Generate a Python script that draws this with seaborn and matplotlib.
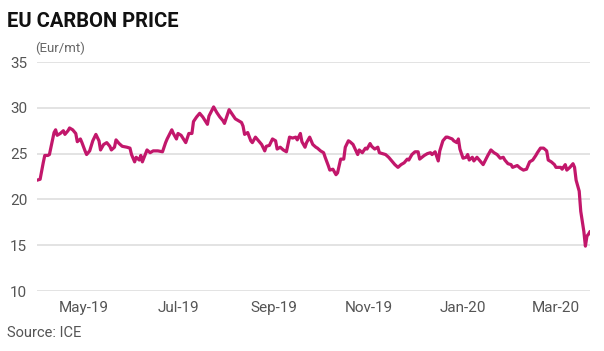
import matplotlib
matplotlib.use("Agg")
import matplotlib.pyplot as plt
import seaborn as sns
import pandas as pd

dates = [
    "2019-04-01", "2019-04-03", "2019-04-05", "2019-04-06", "2019-04-08", "2019-04-09",
    "2019-04-12", "2019-04-13", "2019-04-14", "2019-04-16", "2019-04-18", "2019-04-19",
    "2019-04-21", "2019-04-22", "2019-04-24", "2019-04-26", "2019-04-27", "2019-04-29",
    "2019-04-30", "2019-05-02", "2019-05-03", "2019-05-05", "2019-05-07", "2019-05-09",
    "2019-05-11", "2019-05-12", "2019-05-14", "2019-05-16", "2019-05-18", "2019-05-19",
    "2019-05-21", "2019-05-22", "2019-05-24", "2019-05-26", "2019-05-29", "2019-05-31",
    "2019-06-01", "2019-06-03", "2019-06-04", "2019-06-06", "2019-06-07", "2019-06-08",
    "2019-06-11", "2019-06-13", "2019-06-15", "2019-06-18", "2019-06-21", "2019-06-23",
    "2019-06-24", "2019-06-27", "2019-06-28", "2019-06-30", "2019-07-01", "2019-07-03",
    "2019-07-06", "2019-07-08", "2019-07-10", "2019-07-11", "2019-07-13", "2019-07-15",
    "2019-07-17", "2019-07-20", "2019-07-21", "2019-07-24", "2019-07-26", "2019-07-28",
    "2019-07-30", "2019-07-31", "2019-08-03", "2019-08-05", "2019-08-07", "2019-08-09",
    "2019-08-11", "2019-08-12", "2019-08-13", "2019-08-15", "2019-08-17", "2019-08-18",
    "2019-08-20", "2019-08-22", "2019-08-24", "2019-08-26", "2019-08-27", "2019-08-29",
    "2019-08-31", "2019-09-02", "2019-09-03", "2019-09-05", "2019-09-07", "2019-09-09",
    "2019-09-11", "2019-09-13", "2019-09-15", "2019-09-16", "2019-09-18", "2019-09-19",
    "2019-09-21", "2019-09-22", "2019-09-24", "2019-09-26", "2019-09-28", "2019-09-29",
    "2019-10-01", "2019-10-03", "2019-10-04", "2019-10-06", "2019-10-07", "2019-10-09",
    "2019-10-11", "2019-10-12", "2019-10-14", "2019-10-16", "2019-10-17", "2019-10-19",
    "2019-10-20", "2019-10-22", "2019-10-25", "2019-10-26", "2019-10-28", "2019-10-30",
    "2019-10-31", "2019-11-02", "2019-11-03", "2019-11-05", "2019-11-07", "2019-11-08",
    "2019-11-10", "2019-11-12", "2019-11-14", "2019-11-16", "2019-11-18", "2019-11-20",
    "2019-11-22", "2019-11-24", "2019-11-26", "2019-11-27", "2019-11-29", "2019-12-01",
    "2019-12-03", "2019-12-04", "2019-12-07", "2019-12-09", "2019-12-11", "2019-12-12",
    "2019-12-14", "2019-12-16", "2019-12-17", "2019-12-19", "2019-12-21", "2019-12-22",
    "2019-12-25", "2019-12-26", "2019-12-28", "2019-12-29", "2019-12-30", "2020-01-01",
    "2020-01-03", "2020-01-04", "2020-01-05", "2020-01-07", "2020-01-08", "2020-01-10",
    "2020-01-12", "2020-01-14", "2020-01-17", "2020-01-19", "2020-01-21", "2020-01-23",
    "2020-01-25", "2020-01-27", "2020-01-28", "2020-01-30", "2020-02-01", "2020-02-02",
    "2020-02-05", "2020-02-07", "2020-02-09", "2020-02-11", "2020-02-13", "2020-02-15",
    "2020-02-17", "2020-02-18", "2020-02-20", "2020-02-22", "2020-02-24", "2020-02-25",
    "2020-02-27", "2020-02-29", "2020-03-01", "2020-03-04", "2020-03-05", "2020-03-07",
    "2020-03-08", "2020-03-10", "2020-03-12", "2020-03-13", "2020-03-14", "2020-03-16",
    "2020-03-17", "2020-03-19", "2020-03-20", "2020-03-21", "2020-03-22", "2020-03-23",
]

prices = [
    22.1, 22.2, 24.0, 24.8, 24.8, 24.9,
    27.3, 27.6, 27.0, 27.2, 27.5, 27.1,
    27.5, 27.8, 27.6, 27.2, 26.3, 26.6,
    26.2, 25.3, 24.9, 25.3, 26.4, 27.1,
    26.4, 25.4, 26.0, 26.2, 25.8, 25.4,
    25.7, 26.5, 26.1, 25.8, 25.7, 25.6,
    24.9, 24.1, 24.6, 24.3, 24.8, 24.1,
    25.4, 25.1, 25.3, 25.3, 25.2, 26.2,
    26.6, 27.6, 27.2, 26.6, 27.2, 27.0,
    26.2, 27.2, 27.2, 28.5, 29.0, 29.4,
    29.0, 28.2, 29.1, 30.1, 29.5, 29.0,
    28.6, 28.3, 29.8, 29.3, 28.8, 28.6,
    28.4, 28.0, 27.1, 27.3, 26.4, 26.2,
    26.8, 26.4, 26.0, 25.3, 25.8, 25.9,
    26.6, 26.4, 25.5, 25.7, 25.4, 25.2,
    26.8, 26.7, 26.8, 26.5, 27.2, 26.3,
    25.7, 26.2, 26.8, 26.0, 25.7, 25.6,
    25.3, 25.1, 24.6, 23.7, 23.2, 23.3,
    22.7, 22.9, 24.4, 24.4, 25.7, 26.4,
    26.3, 26.0, 24.9, 25.4, 25.1, 25.6,
    25.5, 26.1, 25.8, 25.5, 25.7, 25.1,
    25.0, 24.9, 24.6, 24.2, 23.8, 23.5,
    23.8, 24.0, 24.4, 24.3, 24.9, 25.2,
    25.2, 24.4, 24.8, 25.0, 25.1, 24.9,
    25.2, 24.2, 25.3, 26.4, 26.8, 26.8,
    26.6, 26.4, 26.2, 26.6, 25.5, 24.5,
    24.6, 24.9, 24.3, 24.6, 24.2, 24.6,
    24.2, 23.8, 24.8, 25.4, 25.1, 24.9,
    24.5, 24.6, 24.3, 23.9, 23.8, 23.5,
    23.7, 23.4, 23.2, 23.3, 24.1, 24.3,
    24.8, 25.1, 25.6, 25.6, 25.3, 24.3,
    24.1, 23.8, 23.5, 23.5, 23.3, 23.8,
    23.2, 23.5, 23.9, 23.5, 22.1, 20.9,
    18.7, 16.5, 14.9, 16.0, 16.2, 16.5,
]

y_ticks = [10, 15, 20, 25, 30, 35]
x_tick_dates = ["2019-05-01", "2019-07-01", "2019-09-01", "2019-11-01", "2020-01-01", "2020-03-01"]
x_tick_labels = ["May-19", "Jul-19", "Sep-19", "Nov-19", "Jan-20", "Mar-20"]

title = "EU CARBON PRICE"
unit = "(Eur/mt)"
source = "Source: ICE"

df = pd.DataFrame({"date": pd.to_datetime(dates), "price": prices})

sns.set_theme(style="white")
plt.rcParams["font.family"] = ["Roboto", "DejaVu Sans"]

fig = plt.figure(figsize=(6.04, 3.51), dpi=100)
ax = fig.add_axes([0.0613, 0.1709, 0.9156, 0.6524])

sns.lineplot(data=df, x="date", y="price", ax=ax, color="#C2176B", linewidth=2.3)

ax.set_ylim(10, 35)
ax.set_yticks(y_ticks)
ax.set_xlim(df["date"].min(), df["date"].max())
ax.set_xticks(pd.to_datetime(x_tick_dates))
ax.set_xticklabels(x_tick_labels)
ax.set_xlabel("")
ax.set_ylabel("")
ax.grid(axis="y", color="#dedede", linewidth=1.2)
ax.grid(axis="x", visible=False)
ax.set_axisbelow(True)
for s in ax.spines.values():
    s.set_visible(False)
ax.tick_params(axis="both", length=0, labelsize=11, colors="#555555")
ax.tick_params(axis="y", pad=7)
ax.tick_params(axis="x", pad=7)

fig.text(0.012, 0.94, title, fontsize=14.5, fontweight="bold", color="#111111", va="center", ha="left")
fig.text(0.058, 0.863, unit, fontsize=9.5, color="#666666", va="center", ha="left")
fig.text(0.012, 0.052, source, fontsize=10.5, color="#555555", va="center", ha="left")

fig.savefig("out.png", dpi=100)
